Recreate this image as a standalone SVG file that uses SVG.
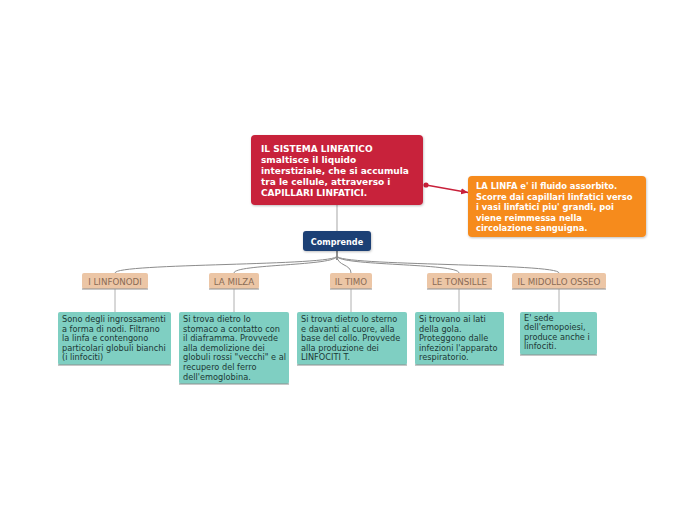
<svg xmlns="http://www.w3.org/2000/svg" width="697" height="520" viewBox="0 0 697 520">
<style>
.t{font-family:"DejaVu Sans",Verdana,sans-serif}
.c{font-family:"DejaVu Sans Condensed","DejaVu Sans",Verdana,sans-serif}
.title{font-size:9px;font-weight:bold;fill:#ffffff}
.otitle{font-size:8.4px;font-weight:bold;fill:#ffffff}
.cat{font-size:8.7px;fill:#8a6b55}
.desc{font-size:8.2px;fill:#1c3835}
.catbox{fill:#ecc6a6}
.descbox{fill:#7fcfc2}
.edge{fill:none;stroke:#8c8c8c;stroke-width:1}
.base{stroke:#8e8e8e;stroke-width:1}
</style>
<defs>
<filter id="sh" x="-10%" y="-10%" width="120%" height="130%">
<feDropShadow dx="0.6" dy="1" stdDeviation="0.8" flood-color="#000" flood-opacity="0.25"/>
</filter>
<marker id="arr" markerWidth="8" markerHeight="8" refX="7" refY="4" orient="auto" markerUnits="userSpaceOnUse">
<path d="M0,1 L7,4 L0,7 Z" fill="#c8203a"/>
</marker>
</defs>
<rect width="697" height="520" fill="#ffffff"/>
<g id="connectors">
<line x1="337" y1="205" x2="337" y2="231" stroke="#b5b5b5" stroke-width="1.2"/>
<line x1="337" y1="251" x2="337" y2="260" stroke="#555" stroke-width="1.3"/>
<path class="edge" d="M337,256 C337,266 115,263 115,273"/>
<path class="edge" d="M337,256 C337,266 234,264 234,273"/>
<path class="edge" d="M337,256 C337,266 351,264 351,273"/>
<path class="edge" d="M337,256 C337,266 459,263 459,273"/>
<path class="edge" d="M337,256 C337,266 559,263 559,273"/>
<line x1="115" y1="289" x2="115" y2="312" stroke="#b0b0b0"/>
<line x1="234" y1="289" x2="234" y2="312" stroke="#b0b0b0"/>
<line x1="351" y1="289" x2="351" y2="312" stroke="#b0b0b0"/>
<line x1="459" y1="289" x2="459" y2="312" stroke="#b0b0b0"/>
<line x1="559" y1="289" x2="559" y2="312" stroke="#b0b0b0"/>
<circle cx="426" cy="185" r="2.6" fill="#c8203a"/>
<line x1="426" y1="185" x2="468" y2="192.5" stroke="#c8203a" stroke-width="1.3" marker-end="url(#arr)"/>
</g>
<g id="main">
<rect x="251" y="135" width="172" height="70" rx="4" fill="#c8203a" filter="url(#sh)"/>
<text class="t title"><tspan x="261" y="152">IL SISTEMA LINFATICO</tspan><tspan x="261" y="163">smaltisce il liquido</tspan><tspan x="261" y="174">interstiziale, che si accumula</tspan><tspan x="261" y="185">tra le cellule, attraverso i</tspan><tspan x="261" y="196">CAPILLARI LINFATICI.</tspan></text>
</g>
<g id="linfa">
<rect x="468" y="176" width="178" height="61" rx="4" fill="#f68b1f" filter="url(#sh)"/>
<text class="t otitle"><tspan x="476" y="189">LA LINFA e' il fluido assorbito.</tspan><tspan x="476" y="199.6">Scorre dai capillari linfatici verso</tspan><tspan x="476" y="210.2">i vasi linfatici piu' grandi, poi</tspan><tspan x="476" y="220.8">viene reimmessa nella</tspan><tspan x="476" y="231.4">circolazione sanguigna.</tspan></text>
</g>
<g id="comprende">
<rect x="303" y="231" width="68" height="20" rx="3" fill="#1c3f74" filter="url(#sh)"/>
<text class="c title" x="337" y="244.5" text-anchor="middle">Comprende</text>
</g>
<g id="linfonodi">
<rect class="catbox" x="82" y="273" width="66" height="16" rx="2"/>
<line class="base" x1="82" y1="289" x2="148" y2="289"/>
<text class="t cat" x="115" y="284.5" text-anchor="middle">I LINFONODI</text>
</g>
<g id="milza">
<rect class="catbox" x="209" y="273" width="50" height="16" rx="2"/>
<line class="base" x1="209" y1="289" x2="259" y2="289"/>
<text class="t cat" x="234" y="284.5" text-anchor="middle">LA MILZA</text>
</g>
<g id="timo">
<rect class="catbox" x="330" y="273" width="42" height="16" rx="2"/>
<line class="base" x1="330" y1="289" x2="372" y2="289"/>
<text class="t cat" x="351" y="284.5" text-anchor="middle">IL TIMO</text>
</g>
<g id="tonsille">
<rect class="catbox" x="427" y="273" width="65" height="16" rx="2"/>
<line class="base" x1="427" y1="289" x2="492" y2="289"/>
<text class="t cat" x="459.5" y="284.5" text-anchor="middle">LE TONSILLE</text>
</g>
<g id="midollo">
<rect class="catbox" x="512" y="273" width="94" height="16" rx="2"/>
<line class="base" x1="512" y1="289" x2="606" y2="289"/>
<text class="t cat" x="559" y="284.5" text-anchor="middle">IL MIDOLLO OSSEO</text>
</g>
<g id="desc-linfonodi">
<rect class="descbox" x="58" y="312" width="113" height="53" rx="2"/>
<line class="base" x1="58" y1="365" x2="171" y2="365"/>
<text class="t desc"><tspan x="62" y="322">Sono degli ingrossamenti</tspan><tspan x="62" y="331.6">a forma di nodi. Filtrano</tspan><tspan x="62" y="341.2">la linfa e contengono</tspan><tspan x="62" y="350.8">particolari globuli bianchi</tspan><tspan x="62" y="360.4">(i linfociti)</tspan></text>
</g>
<g id="desc-milza">
<rect class="descbox" x="179" y="312" width="110" height="72" rx="2"/>
<line class="base" x1="179" y1="384" x2="289" y2="384"/>
<text class="t desc"><tspan x="183" y="322">Si trova dietro lo</tspan><tspan x="183" y="331.6">stomaco a contatto con</tspan><tspan x="183" y="341.2">il diaframma. Provvede</tspan><tspan x="183" y="350.8">alla demolizione dei</tspan><tspan x="183" y="360.4">globuli rossi "vecchi" e al</tspan><tspan x="183" y="370">recupero del ferro</tspan><tspan x="183" y="379.6">dell'emoglobina.</tspan></text>
</g>
<g id="desc-timo">
<rect class="descbox" x="297" y="312" width="110" height="53" rx="2"/>
<line class="base" x1="297" y1="365" x2="407" y2="365"/>
<text class="t desc"><tspan x="301" y="322">Si trova dietro lo sterno</tspan><tspan x="301" y="331.6">e davanti al cuore, alla</tspan><tspan x="301" y="341.2">base del collo. Provvede</tspan><tspan x="301" y="350.8">alla produzione dei</tspan><tspan x="301" y="360.4">LINFOCITI T.</tspan></text>
</g>
<g id="desc-tonsille">
<rect class="descbox" x="415" y="312" width="89" height="53" rx="2"/>
<line class="base" x1="415" y1="365" x2="504" y2="365"/>
<text class="t desc"><tspan x="419" y="322">Si trovano ai lati</tspan><tspan x="419" y="331.6">della gola.</tspan><tspan x="419" y="341.2">Proteggono dalle</tspan><tspan x="419" y="350.8">infezioni l'apparato</tspan><tspan x="419" y="360.4">respiratorio.</tspan></text>
</g>
<g id="desc-midollo">
<rect class="descbox" x="520" y="312" width="77" height="43" rx="2"/>
<line class="base" x1="520" y1="355" x2="597" y2="355"/>
<text class="t desc"><tspan x="524" y="321">E' sede</tspan><tspan x="524" y="330.4">dell'emopoiesi,</tspan><tspan x="524" y="339.8">produce anche i</tspan><tspan x="524" y="349.2">linfociti.</tspan></text>
</g>
</svg>
